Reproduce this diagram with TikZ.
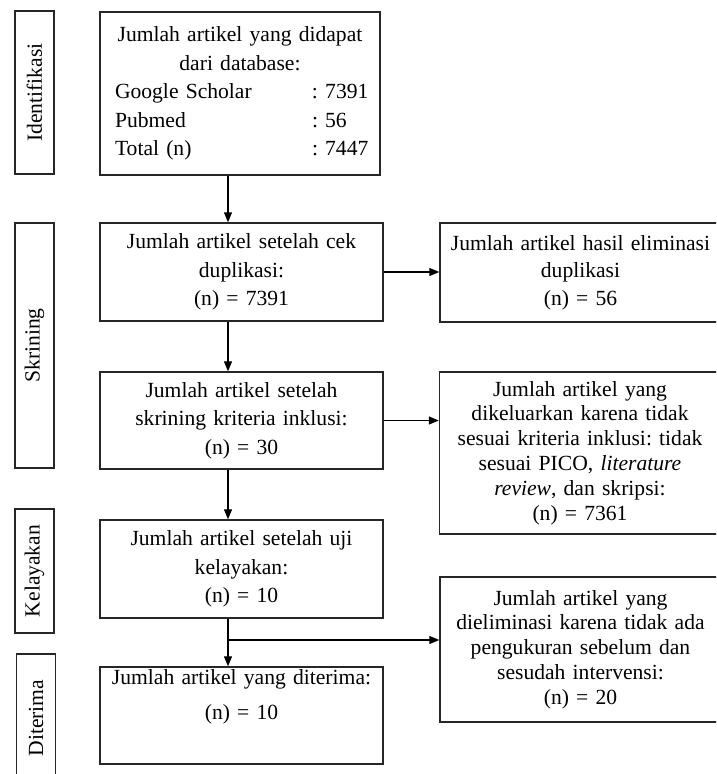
\documentclass[tikz,border=0pt]{standalone}
\usepackage{fontspec}
\setmainfont{Liberation Serif}
\usepackage{tikz}
\usetikzlibrary{arrows.meta}
\frenchspacing

\begin{document}
\begin{tikzpicture}[x=1pt,y=-1pt,>={Triangle[length=10pt,width=8pt]},
  font=\fontsize{21.6}{28.5}\selectfont,
  box/.style={draw=black!85,line width=1.4pt,align=center,inner sep=0pt,minimum width=283pt,text width=265pt},
  sidebox/.style={box,minimum width=281pt,font=\fontsize{21.6}{24.8}\selectfont},
  phase/.style={draw=black!85,line width=1.4pt,rotate=90,inner sep=0pt,minimum height=39pt},
  flow/.style={->,line width=1.2pt}]
\useasboundingbox (0,0) rectangle (716,774);
\clip (0,0) rectangle (716,774);
% fase
\node[phase,minimum width=163pt] (pid) at (34.5,92.5) {Identifikasi};
\node[phase,minimum width=245pt] (psk) at (34.5,345.5) {Skrining};
\node[phase,minimum width=124pt] (pkl) at (34.5,571) {Kelayakan};
\node[phase,minimum width=128pt] (pdt) at (36,718) {Diterima};
% alur utama
\node[box,minimum width=280pt,minimum height=163pt] (b1) at (240,93.5)
  {Jumlah artikel yang didapat\\ dari database:\\
   \makebox[197pt][l]{Google Scholar}\makebox[53pt][l]{: 7391}\\
   \makebox[197pt][l]{Pubmed}\makebox[53pt][l]{: 56}\\
   \makebox[197pt][l]{Total (n)}\makebox[53pt][l]{: 7447}};
\node[box,minimum height=98pt] (b2) at (241.5,272)
  {Jumlah artikel setelah cek\\ duplikasi:\\ (n) = 7391};
\node[box,minimum height=97pt] (b3) at (241.5,420.5)
  {Jumlah artikel setelah\\ skrining kriteria inklusi:\\ (n) = 30};
\node[box,minimum height=98pt] (b4) at (241.5,569)
  {Jumlah artikel setelah uji\\ kelayakan:\\ (n) = 10};
\node[box,minimum height=97pt] (b5) at (241.5,715.5)
  {Jumlah artikel yang diterima:\\[6pt] (n) = 10\\[14pt] \mbox{}};
% eliminasi
\node[sidebox,minimum height=99pt,font=\fontsize{21.6}{27.5}\selectfont] (r1) at (580.5,272.5)
  {Jumlah artikel hasil eliminasi\\ duplikasi\\ (n) = 56};
\node[sidebox,minimum height=162pt] (r2) at (580,453)
  {Jumlah artikel yang\\ dikeluarkan karena tidak\\ sesuai kriteria inklusi: tidak\\
   sesuai PICO, \textit{literature}\\ \textit{review}, dan skripsi:\\ (n) = 7361};
\node[sidebox,minimum height=145pt] (r3) at (580.5,649.5)
  {Jumlah artikel yang\\ dieliminasi karena tidak ada\\ pengukuran sebelum dan\\
   sesudah intervensi:\\ (n) = 20};
% panah
\coordinate (ax) at (228,0);
\coordinate (split) at (228,640);
\draw[flow] (b1.south -| ax) -- (b2.north -| ax);
\draw[flow] (b2.south -| ax) -- (b3.north -| ax);
\draw[flow] (b3.south -| ax) -- (b4.north -| ax);
\draw[flow] (b4.south -| ax) -- (b5.north -| ax);
\draw[flow] (b2.east) -- (b2.east -| r1.west);
\draw[flow] (b3.east) -- (b3.east -| r2.west);
\draw[flow] (split) -- (split -| r3.west);
\end{tikzpicture}
\end{document}
